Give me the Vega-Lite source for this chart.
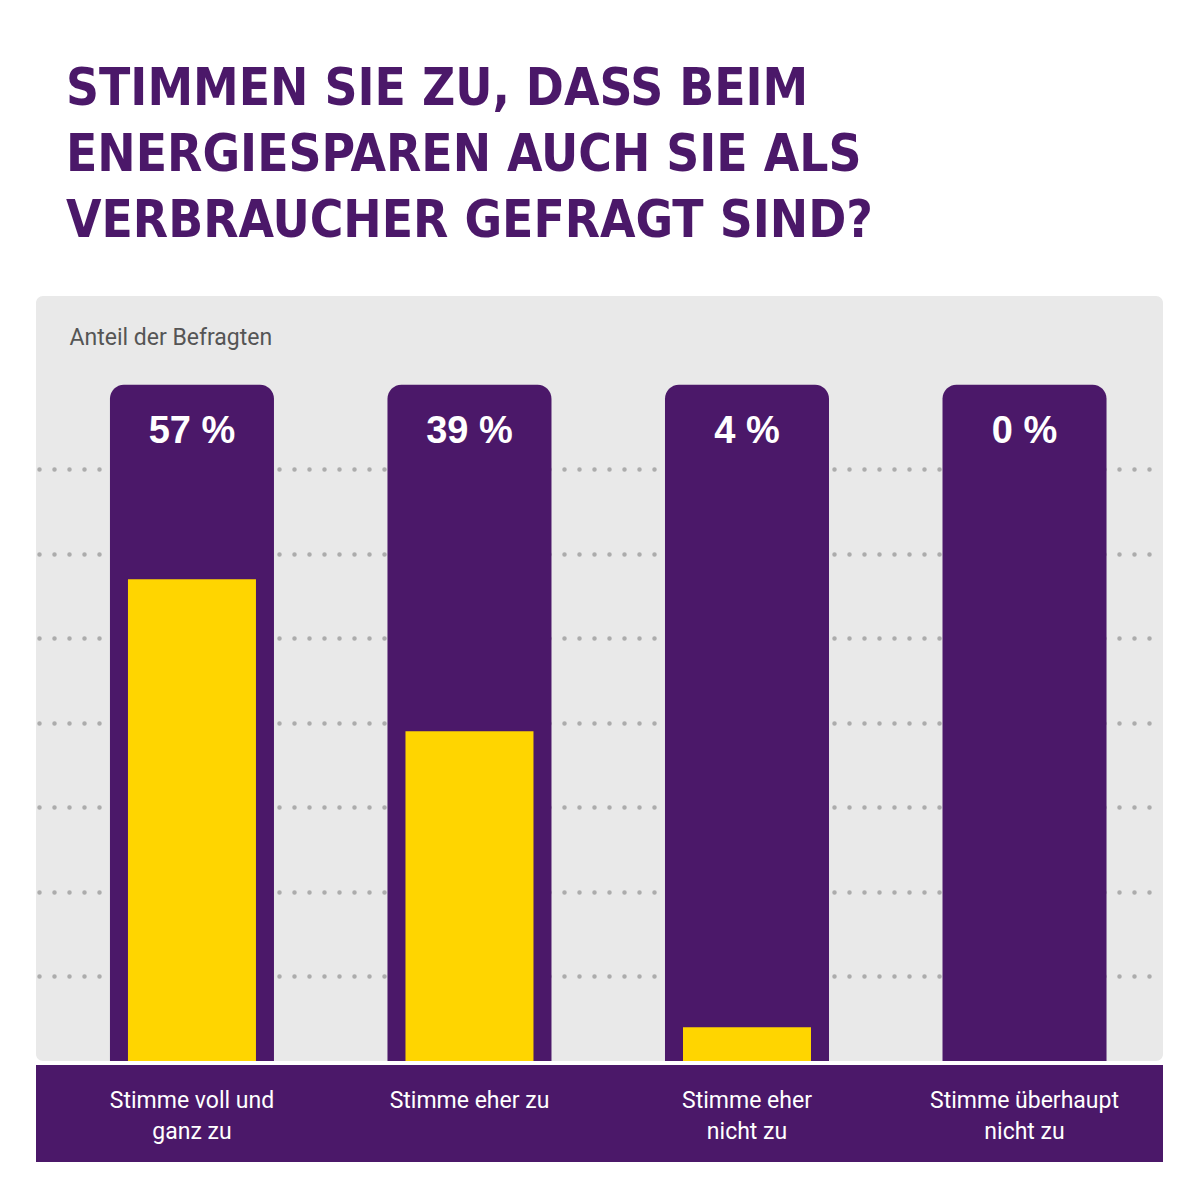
{
  "$schema": "https://vega.github.io/schema/vega-lite/v6.json",
  "padding": {"left": 36, "top": 64, "right": 37, "bottom": 37},
  "background": "white",
  "title": {
    "text": ["STIMMEN SIE ZU, DASS BEIM", "ENERGIESPAREN AUCH SIE ALS", "VERBRAUCHER GEFRAGT SIND?"],
    "anchor": "start",
    "dx": 30,
    "font": "Liberation Sans Narrow, DejaVu Sans Condensed, Roboto",
    "fontSize": 51,
    "fontWeight": "bold",
    "color": "#4b1869",
    "lineHeight": 66,
    "baseline": "top",
    "offset": 48
  },
  "datasets": {
    "umfrage": [
      {"antwort": "Stimme voll und ganz zu", "beschriftung": "Stimme voll und\nganz zu", "anteil": 57, "skala": 80, "label": "57 %"},
      {"antwort": "Stimme eher zu", "beschriftung": "Stimme eher zu", "anteil": 39, "skala": 80, "label": "39 %"},
      {"antwort": "Stimme eher nicht zu", "beschriftung": "Stimme eher\nnicht zu", "anteil": 4, "skala": 80, "label": "4 %"},
      {"antwort": "Stimme überhaupt nicht zu", "beschriftung": "Stimme überhaupt\nnicht zu", "anteil": 0, "skala": 80, "label": "0 %"}
    ]
  },
  "spacing": 4,
  "vconcat": [
    {
      "width": 1127,
      "height": 765,
      "view": {"fill": "#e9e9e9", "cornerRadius": 7, "stroke": null},
      "data": {"name": "umfrage"},
      "encoding": {
        "x": {
          "field": "antwort", "type": "nominal", "sort": null,
          "scale": {"type": "band", "paddingInner": 0.409, "paddingOuter": 0.235, "align": 0.567},
          "axis": null
        }
      },
      "layer": [
        {
          "mark": {"type": "bar", "color": "#4b1869", "cornerRadiusTopLeft": 14, "cornerRadiusTopRight": 14},
          "encoding": {
            "y": {
              "field": "skala", "type": "quantitative", "stack": null,
              "scale": {"domain": [0, 90.5], "nice": false},
              "title": "Anteil der Befragten",
              "axis": {
                "orient": "left",
                "values": [10, 20, 30, 40, 50, 60, 70],
                "labels": false, "ticks": false, "domain": false,
                "grid": true, "gridColor": "#acacac", "gridWidth": 4.5, "gridCap": "round",
                "gridDash": [0, 15], "gridDashOffset": 12,
                "titleAngle": 0, "titleAlign": "left", "titleBaseline": "alphabetic",
                "titleX": 33, "titleY": 48,
                "titleFont": "Roboto", "titleFontSize": 23, "titleFontWeight": "normal", "titleColor": "#555555"
              }
            }
          }
        },
        {
          "mark": {"type": "bar", "color": "#ffd500", "width": 128},
          "encoding": {
            "y": {
              "field": "anteil", "type": "quantitative", "stack": null,
              "scale": {"domain": [0, 90.5], "nice": false},
              "title": "Anteil der Befragten",
              "axis": {
                "orient": "left",
                "values": [10, 20, 30, 40, 50, 60, 70],
                "labels": false, "ticks": false, "domain": false,
                "grid": true, "gridColor": "#acacac", "gridWidth": 4.5, "gridCap": "round",
                "gridDash": [0, 15], "gridDashOffset": 12,
                "titleAngle": 0, "titleAlign": "left", "titleBaseline": "alphabetic",
                "titleX": 33, "titleY": 48,
                "titleFont": "Roboto", "titleFontSize": 23, "titleFontWeight": "normal", "titleColor": "#555555"
              }
            }
          }
        },
        {
          "mark": {"type": "text", "color": "white", "font": "Liberation Sans", "fontSize": 38, "fontWeight": "bold", "baseline": "alphabetic", "dy": 58},
          "encoding": {
            "y": {
              "field": "skala", "type": "quantitative",
              "scale": {"domain": [0, 90.5], "nice": false},
              "title": "Anteil der Befragten",
              "axis": {
                "orient": "left",
                "values": [10, 20, 30, 40, 50, 60, 70],
                "labels": false, "ticks": false, "domain": false,
                "grid": true, "gridColor": "#acacac", "gridWidth": 4.5, "gridCap": "round",
                "gridDash": [0, 15], "gridDashOffset": 12,
                "titleAngle": 0, "titleAlign": "left", "titleBaseline": "alphabetic",
                "titleX": 33, "titleY": 48,
                "titleFont": "Roboto", "titleFontSize": 23, "titleFontWeight": "normal", "titleColor": "#555555"
              }
            },
            "text": {"field": "label"}
          }
        }
      ]
    },
    {
      "width": 1127,
      "height": 97,
      "view": {"fill": "#4b1869", "stroke": null, "cornerRadius": 0},
      "data": {"name": "umfrage"},
      "mark": {"type": "text", "color": "white", "font": "Roboto", "fontSize": 23, "lineBreak": "\n", "lineHeight": 31, "baseline": "alphabetic", "dy": -6},
      "encoding": {
        "x": {
          "field": "antwort", "type": "nominal", "sort": null,
          "scale": {"type": "band", "paddingInner": 0.409, "paddingOuter": 0.235, "align": 0.567},
          "axis": null
        },
        "text": {"field": "beschriftung"}
      }
    }
  ],
  "config": {"view": {"stroke": null}}
}
